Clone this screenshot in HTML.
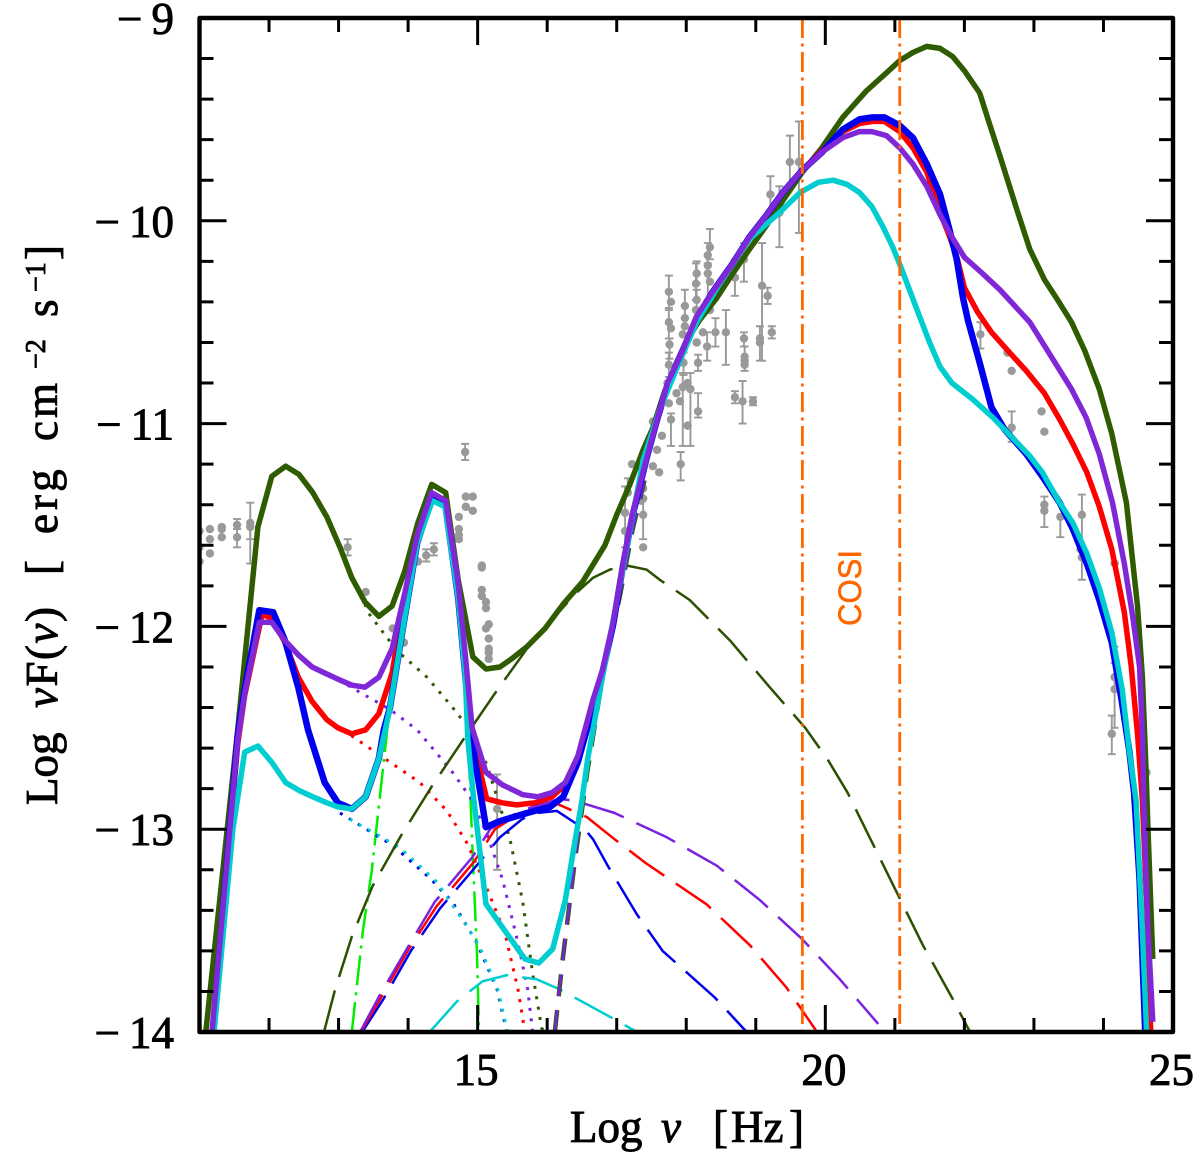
<!DOCTYPE html>
<html lang="en">
<head>
<meta charset="utf-8">
<title>Blazar SED</title>
<style>
html,body{margin:0;padding:0;background:#fff;}
svg{display:block;}
text{font-family:"Liberation Serif","DejaVu Serif",serif;fill:#000;}
.tick-label{font-size:45px;stroke:#000;stroke-width:.9px;}
.axis-title{font-size:45px;stroke:#000;stroke-width:.9px;}
</style>
</head>
<body>
<svg id="chart" xmlns="http://www.w3.org/2000/svg" width="1200" height="1158" viewBox="0 0 1200 1158">
<defs><clipPath id="plot-clip"><rect x="199" y="18" width="974" height="1014"/></clipPath></defs>
<g id="points" clip-path="url(#plot-clip)"></g>
<g id="thin" clip-path="url(#plot-clip)"></g>
<g id="thick" clip-path="url(#plot-clip)"></g>
<g id="axes"></g>
<text transform="translate(861,626) rotate(-90)" textLength="76" lengthAdjust="spacingAndGlyphs" style="font-family:'Liberation Sans',sans-serif;font-size:32px;fill:#ff6600;stroke:#ff6600;stroke-width:.5px;">COSI</text>
<text class="axis-title" y="1142"><tspan x="570">Log</tspan> <tspan x="661" font-style="italic">ν</tspan> <tspan x="713">[</tspan><tspan x="731">Hz</tspan><tspan x="789">]</tspan></text>
<text class="axis-title" transform="translate(57,0) rotate(-90)"><tspan x="-805" y="0">Log</tspan> <tspan x="-708" y="0" style="letter-spacing:1.5px"><tspan font-style="italic">ν</tspan>F(<tspan font-style="italic">ν</tspan>)</tspan> <tspan x="-575" y="0">[</tspan> <tspan x="-534" y="0" style="letter-spacing:4px">erg</tspan> <tspan x="-441" y="0" style="letter-spacing:3px">cm</tspan><tspan x="-369" y="-12" font-size="28">−2</tspan> <tspan x="-317" y="0">s</tspan><tspan x="-292" y="-12" font-size="28">−1</tspan> <tspan x="-260" y="0">]</tspan></text>
</svg>
<script>
// ---- axis ranges and ticks ----
const xDomain = [11, 25];
const yDomain = [-14, -9];
const xMinorTicks = [12, 13, 14, 16, 17, 18, 19, 21, 22, 23, 24];
const xMajorTicks = [15, 20];
const xTickLabels = [15, 20, 25];
const yMajorTicks = [-13, -12, -11, -10];
const yMinorTicks = [-13.8,-13.6,-13.4,-13.2,-12.8,-12.6,-12.4,-12.2,-11.8,-11.6,-11.4,-11.2,-10.8,-10.6,-10.4,-10.2,-9.8,-9.6,-9.4,-9.2];
const yTickLabels = [-14, -13, -12, -11, -10, -9];
const cosiBand = [19.67, 21.07];

// ---- total models ----
const greenNu = [11.09,11.55,11.84,12.04,12.24,12.43,12.63,12.83,13.02,13.19,13.38,13.58,13.77,13.95,14.14,14.34,14.54,14.72,14.93,15.12,15.32,15.49,15.71,15.97,16.23,16.51,16.83,17.00,17.19,17.38,17.52,17.69,17.86,18.01,18.19,18.44,18.67,18.91,19.16,19.39,19.67,19.95,20.25,20.59,20.88,21.07,21.26,21.46,21.65,21.83,22.00,22.22,22.36,22.51,22.76,22.94,23.15,23.34,23.54,23.73,23.94,24.12,24.33,24.49,24.56,24.61,24.64,24.71];
const greenFlux = [-14,-12.51,-11.51,-11.26,-11.21,-11.25,-11.34,-11.46,-11.61,-11.76,-11.88,-11.95,-11.90,-11.73,-11.49,-11.30,-11.34,-11.77,-12.15,-12.21,-12.20,-12.16,-12.10,-12.01,-11.89,-11.78,-11.60,-11.45,-11.30,-11.13,-11.02,-10.84,-10.70,-10.59,-10.49,-10.38,-10.26,-10.14,-10.02,-9.90,-9.76,-9.64,-9.49,-9.36,-9.27,-9.21,-9.17,-9.14,-9.15,-9.19,-9.26,-9.37,-9.52,-9.68,-9.95,-10.14,-10.29,-10.39,-10.50,-10.64,-10.83,-11.05,-11.39,-11.90,-12.25,-12.69,-13.00,-13.64];

const redNu = [11.19,11.55,11.65,11.90,12.04,12.23,12.42,12.62,12.83,12.99,13.19,13.39,13.58,13.77,13.93,14.14,14.34,14.54,14.72,14.85,14.92,15.13,15.35,15.56,15.82,16.07,16.26,16.44,16.66,16.80,16.95,17.09,17.23,17.43,17.59,17.73,17.91,18.15,18.38,18.67,18.91,19.16,19.39,19.67,19.96,20.25,20.49,20.68,20.85,21.07,21.26,21.46,21.65,21.79,21.90,22.00,22.19,22.39,22.65,22.89,23.15,23.37,23.56,23.76,23.94,24.12,24.30,24.40,24.49,24.56,24.62,24.68];
const redFlux = [-14,-12.58,-12.34,-11.94,-11.96,-12.08,-12.25,-12.37,-12.46,-12.50,-12.53,-12.51,-12.43,-12.23,-11.90,-11.54,-11.36,-11.40,-11.82,-12.26,-12.55,-12.85,-12.87,-12.88,-12.87,-12.84,-12.78,-12.66,-12.40,-12.22,-11.99,-11.70,-11.45,-11.17,-10.97,-10.81,-10.67,-10.48,-10.35,-10.21,-10.08,-9.97,-9.86,-9.75,-9.65,-9.56,-9.52,-9.51,-9.51,-9.56,-9.64,-9.76,-9.96,-10.08,-10.19,-10.33,-10.45,-10.55,-10.65,-10.74,-10.85,-10.98,-11.10,-11.24,-11.41,-11.62,-11.93,-12.20,-12.53,-12.86,-13.35,-14];

const blueNu = [11.19,11.55,11.65,11.86,12.06,12.23,12.42,12.56,12.80,12.99,13.19,13.39,13.58,13.65,13.74,13.93,14.13,14.35,14.53,14.72,14.82,14.89,15.12,15.32,15.71,16.04,16.23,16.44,16.57,16.80,16.95,17.09,17.23,17.43,17.59,17.73,17.91,18.15,18.38,18.67,18.91,19.16,19.39,19.67,19.96,20.25,20.49,20.68,20.85,21.07,21.26,21.46,21.65,21.79,21.89,21.98,22.05,22.22,22.39,22.58,22.89,23.12,23.37,23.56,23.76,23.94,24.12,24.26,24.37,24.44,24.52,24.60];
const blueFlux = [-14,-12.54,-12.31,-11.92,-11.93,-12.07,-12.30,-12.51,-12.77,-12.87,-12.90,-12.84,-12.65,-12.51,-12.40,-12.00,-11.59,-11.36,-11.39,-11.86,-12.23,-12.51,-12.99,-12.96,-12.92,-12.89,-12.84,-12.67,-12.51,-12.22,-11.99,-11.70,-11.45,-11.17,-10.97,-10.81,-10.67,-10.48,-10.35,-10.21,-10.08,-9.97,-9.86,-9.75,-9.66,-9.55,-9.50,-9.49,-9.49,-9.53,-9.59,-9.72,-9.87,-10.05,-10.19,-10.38,-10.49,-10.70,-10.92,-11.03,-11.15,-11.26,-11.39,-11.52,-11.69,-11.87,-12.08,-12.36,-12.61,-12.82,-13.25,-14];

const cyanNu = [11.21,11.48,11.65,11.84,12.04,12.24,12.44,12.63,12.83,12.99,13.19,13.39,13.58,13.67,13.74,13.93,14.13,14.35,14.53,14.72,14.82,14.86,14.93,15.12,15.39,15.68,15.88,16.08,16.26,16.37,16.50,16.58,16.79,17.09,17.38,17.62,17.91,18.15,18.48,18.91,19.34,19.64,19.90,20.11,20.31,20.49,20.67,20.83,20.97,21.10,21.32,21.50,21.65,21.82,22.12,22.41,22.69,22.94,23.12,23.37,23.56,23.76,23.94,24.12,24.27,24.37,24.47,24.56,24.62];
const cyanFlux = [-14,-13.00,-12.62,-12.59,-12.67,-12.77,-12.81,-12.84,-12.87,-12.89,-12.90,-12.84,-12.65,-12.51,-12.40,-12.00,-11.59,-11.38,-11.41,-11.86,-12.23,-12.56,-12.81,-13.37,-13.50,-13.64,-13.66,-13.59,-13.35,-13.12,-12.86,-12.66,-12.26,-11.71,-11.18,-10.93,-10.69,-10.50,-10.31,-10.09,-9.96,-9.86,-9.81,-9.80,-9.82,-9.86,-9.93,-10.03,-10.13,-10.24,-10.44,-10.60,-10.72,-10.80,-10.88,-10.97,-11.07,-11.16,-11.24,-11.39,-11.49,-11.64,-11.81,-12.03,-12.31,-12.61,-12.86,-13.50,-14];

const purpleNu = [11.18,11.55,11.65,11.86,12.04,12.23,12.42,12.62,12.80,12.99,13.19,13.38,13.58,13.77,13.95,14.14,14.34,14.54,14.72,14.82,14.92,15.12,15.35,15.65,15.87,16.07,16.26,16.44,16.66,16.80,16.95,17.09,17.23,17.43,17.59,17.73,17.91,18.15,18.38,18.67,18.91,19.16,19.39,19.67,19.96,20.25,20.49,20.67,20.88,21.07,21.26,21.46,21.65,21.82,22.00,22.26,22.51,22.94,23.25,23.54,23.75,23.94,24.13,24.30,24.42,24.52,24.56,24.58,24.60,24.64,24.71];
const purpleFlux = [-14,-12.56,-12.33,-11.98,-11.98,-12.07,-12.14,-12.20,-12.23,-12.26,-12.29,-12.30,-12.25,-12.11,-11.84,-11.54,-11.34,-11.38,-11.79,-12.13,-12.50,-12.72,-12.78,-12.83,-12.84,-12.82,-12.77,-12.64,-12.36,-12.21,-11.98,-11.69,-11.44,-11.17,-10.97,-10.80,-10.67,-10.47,-10.35,-10.21,-10.08,-9.97,-9.86,-9.75,-9.66,-9.59,-9.56,-9.56,-9.58,-9.64,-9.72,-9.83,-9.97,-10.08,-10.18,-10.26,-10.34,-10.50,-10.67,-10.83,-10.97,-11.15,-11.39,-11.69,-11.95,-12.20,-12.53,-12.86,-13.09,-13.50,-13.95];

// ---- long-dash components ----
const greenDashNu = [12.79,12.95,13.19,13.49,13.90,14.34,14.79,15.25,15.75,16.40,16.66,16.90,17.15,17.43,17.62,18.05,18.63,19.20,19.71,20.04,20.32,20.68,21.04,21.40,21.82,22.08];
const greenDashFlux = [-14,-13.79,-13.53,-13.28,-13.03,-12.79,-12.56,-12.33,-12.09,-11.84,-11.76,-11.72,-11.70,-11.72,-11.77,-11.87,-12.07,-12.30,-12.50,-12.66,-12.82,-13.07,-13.32,-13.57,-13.83,-14];
const purpleDashNu = [13.31,13.59,14.00,14.38,14.92,15.18,15.61,16.18,16.40,16.97,17.72,18.44,19.06,19.66,20.21,20.76];
const purpleDashFlux = [-14,-13.82,-13.58,-13.36,-13.14,-13.00,-12.91,-12.85,-12.86,-12.92,-13.04,-13.18,-13.35,-13.54,-13.74,-13.96];
const redDashNu = [13.32,13.61,14.01,14.41,14.95,15.25,15.61,16.11,16.57,16.97,17.43,18.29,18.91,19.44,19.88];
const redDashFlux = [-14,-13.83,-13.59,-13.38,-13.16,-13.00,-12.92,-12.87,-12.94,-13.05,-13.17,-13.37,-13.57,-13.78,-14];
const blueDashNu = [13.34,13.64,14.04,14.46,14.96,15.32,15.64,15.85,16.14,16.54,16.66,16.87,17.29,17.66,18.41,18.87];
const blueDashFlux = [-14,-13.84,-13.60,-13.39,-13.19,-13.04,-12.95,-12.92,-12.91,-13.00,-13.05,-13.18,-13.42,-13.60,-13.83,-14];
const cyanDashNu = [14.31,14.70,15.07,15.42,15.85,16.18,16.93,17.29];
const cyanDashFlux = [-14,-13.85,-13.75,-13.72,-13.74,-13.79,-13.93,-14];
const sscNu = [16.11,16.22,16.40,16.58,16.83,17.04,17.23,17.40];
const sscFlux = [-14,-13.65,-13.15,-12.71,-12.18,-11.86,-11.52,-11.28];

// ---- dotted components ----
const greenDotNu = [13.38,13.42,13.84,14.27,14.64,14.89,15.13,15.46,15.65,15.79,15.92,15.96];
const greenDotFlux = [-11.89,-11.93,-12.12,-12.25,-12.40,-12.51,-12.68,-13.04,-13.36,-13.71,-13.98,-14];
const purpleDotNu = [13.13,13.74,14.13,14.64,14.89,15.13,15.36,15.58,15.72,15.79];
const purpleDotFlux = [-12.29,-12.41,-12.51,-12.72,-12.84,-13.02,-13.25,-13.56,-13.79,-14];
const redDotNu = [13.06,13.70,14.17,14.56,14.85,15.13,15.39,15.58,15.68];
const redDotFlux = [-12.51,-12.66,-12.77,-12.91,-13.07,-13.29,-13.51,-13.79,-14];
const blueDotNu = [13.02,13.78,14.31,14.64,14.99,15.28,15.42];
const blueDotFlux = [-12.92,-13.08,-13.24,-13.36,-13.56,-13.79,-14];
const cyanDotNu = [13.16,13.88,14.41,14.79,15.03,15.29,15.43];
const cyanDotFlux = [-12.95,-13.09,-13.26,-13.45,-13.58,-13.79,-14];

// ---- dot-dash torus component ----
const torusNu = [13.19,13.35,13.48,13.70,13.84,14.03,14.17,14.34,14.54,14.72,14.86,14.93,14.99,15.02];
const torusFlux = [-14,-13.50,-13.20,-12.51,-12.17,-11.72,-11.50,-11.38,-11.41,-11.87,-12.51,-13.14,-13.60,-14];

// ---- observed data: frequency, flux, error-bar top, error-bar bottom ----
const obsNu = [11.0,11.0,11.0,11.15,11.15,11.15,11.32,11.32,11.32,11.54,11.54,11.73,11.73,13.13,13.39,13.78,13.94,14.14,14.26,14.37,14.82,14.83,14.93,14.83,14.93,14.73,14.73,14.73,14.73,15.06,15.06,15.06,15.06,15.12,15.12,15.16,15.12,15.16,15.16,15.16,15.16,15.28,
17.22,17.16,17.35,17.12,17.12,17.38,17.38,17.38,17.38,17.52,17.61,
17.75,17.78,17.75,17.78,17.76,17.75,17.73,17.98,17.98,17.98,17.95,17.96,18.15,18.14,18.15,18.14,18.15,18.17,18.15,18.34,18.31,18.31,18.31,18.34,18.34,18.24,18.30,18.42,18.57,18.70,18.83,18.83,18.84,18.84,18.84,19.09,19.17,19.23,19.06,19.06,18.70,18.81,18.96,18.17,18.02,18.06,18.02,17.95,17.86,17.91,17.75,17.78,17.52,17.65,17.58,17.38,17.92,19.21,19.49,19.62,19.34,
22.23,22.62,22.68,22.68,23.11,23.15,23.15,23.15,23.38,23.69,23.67,23.69,24.16,24.16,24.16,24.12,24.62];
const obsFlux = [-11.53,-11.61,-11.68,-11.52,-11.57,-11.64,-11.51,-11.56,-11.52,-11.50,-11.56,-11.49,-11.51,-11.61,-11.83,-12.01,-12.08,-11.68,-11.65,-11.62,-11.14,-11.36,-11.36,-11.41,-11.43,-11.46,-11.52,-11.55,-11.57,-11.70,-11.71,-11.82,-11.85,-11.88,-11.91,-11.99,-12.01,-12.06,-12.11,-12.13,-12.16,-12.90,
-11.20,-11.34,-11.38,-11.44,-11.53,-11.45,-11.61,-11.37,-11.32,-11.21,-11.24,
-10.35,-10.40,-10.50,-10.53,-10.61,-10.71,-10.80,-10.42,-10.48,-10.52,-10.56,-10.70,-10.26,-10.31,-10.39,-10.44,-10.60,-10.70,-10.60,-10.13,-10.17,-10.22,-10.26,-10.30,-10.44,-10.55,-10.62,-10.55,-10.55,-10.28,-10.19,-10.58,-10.67,-10.69,-10.71,-10.32,-10.37,-10.55,-10.58,-10.60,-10.87,-10.89,-10.89,-10.94,-11.01,-10.83,-10.80,-10.82,-10.85,-10.89,-10.90,-10.98,-10.99,-11.06,-11.13,-11.19,-11.20,-9.87,-9.71,-9.71,-9.96,
-10.56,-10.65,-10.74,-11.02,-10.94,-11.04,-11.40,-11.43,-11.46,-11.45,-11.62,-11.66,-11.69,-12.25,-12.31,-12.53,-12.72];
const obsTop = [null,null,null,null,null,null,null,null,null,-11.47,-11.52,-11.39,null,-11.57,null,null,null,null,-11.62,-11.59,-11.10,null,null,null,null,null,null,null,null,null,null,null,null,null,null,null,null,null,null,null,null,-12.73,
null,-11.27,null,-11.31,null,-11.37,null,null,null,null,null,
-10.27,null,-10.44,null,-10.58,-10.65,null,-10.34,null,null,null,-10.65,-10.20,-10.21,-10.34,null,null,-10.66,null,-10.04,-10.11,-10.21,null,null,null,null,-10.55,-10.48,-10.44,-10.19,-10.11,-10.55,-10.62,null,null,-10.11,-10.33,-10.52,-10.52,null,-10.84,-10.79,-10.87,-10.85,null,-10.75,null,-10.75,null,null,null,-10.95,null,null,null,null,-11.14,-9.78,-9.58,-9.51,-9.83,
-10.50,null,null,-10.94,null,null,-11.36,null,null,-11.35,null,null,null,-12.10,-12.18,-12.44,null];
const obsBottom = [null,null,null,null,null,null,null,null,null,-11.52,-11.61,-11.57,-11.69,-11.65,null,null,null,null,-11.68,-11.65,-11.18,null,null,null,null,null,null,null,null,null,null,null,null,null,null,null,null,null,null,null,null,-13.20,
null,null,null,-11.61,null,-11.57,null,null,null,null,null,
-10.43,null,-10.58,null,-10.68,-10.77,null,-10.48,null,null,null,-10.76,-10.31,-10.39,-10.45,null,null,-10.74,null,-10.19,-10.26,-10.39,null,null,null,null,-10.69,-10.62,-10.71,-10.37,-10.30,-10.62,null,null,-10.74,-10.69,-10.41,-10.58,-10.69,null,-10.90,-11.00,-10.91,-10.97,null,-11.11,null,-11.11,null,null,null,-11.11,null,null,null,null,-11.28,-9.96,-9.83,-10.06,-10.13,
-10.63,null,null,-11.09,null,null,-11.51,null,-11.56,-11.77,null,null,null,null,-12.50,-12.63,null];

const W = 'http://www.w3.org/2000/svg';
const plotLeft = 199.5, plotRight = 1173, plotTop = 18, plotBottom = 1032;
function xScale(v){ return plotLeft + (v - xDomain[0]) / (xDomain[1] - xDomain[0]) * (plotRight - plotLeft); }
function yScale(v){ return plotBottom - (v - yDomain[0]) / (yDomain[1] - yDomain[0]) * (plotBottom - plotTop); }
function mk(tag, parent){ const e = document.createElementNS(W, tag); parent.appendChild(e); return e; }
function linePath(nu, flux){ return nu.map((v, i) => (i ? 'L' : 'M') + xScale(v).toFixed(1) + ' ' + yScale(flux[i]).toFixed(1)).join(''); }
function stroke(el, color, width, dash){
  el.setAttribute('fill', 'none');
  el.setAttribute('stroke', color);
  el.setAttribute('stroke-width', width);
  el.setAttribute('stroke-linejoin', 'round');
  if (dash) el.setAttribute('stroke-dasharray', dash);
}

const gPoints = document.getElementById('points');
const gThin = document.getElementById('thin');
const gThick = document.getElementById('thick');
const gAxes = document.getElementById('axes');

// observed points
obsNu.forEach((v, i) => {
  const cx = xScale(v), cy = yScale(obsFlux[i]);
  const top = obsTop[i], bot = obsBottom[i];
  if (top !== null || bot !== null) {
    const y1 = yScale(top !== null ? top : obsFlux[i]);
    const y2 = yScale(bot !== null ? bot : obsFlux[i]);
    const bar = mk('path', gPoints);
    
    
    let d = 'M' + cx + ' ' + y1 + 'V' + y2;
    if (top !== null) d += 'M' + (cx - 4) + ' ' + y1 + 'h8';
    if (bot !== null) d += 'M' + (cx - 4) + ' ' + y2 + 'h8';
    bar.setAttribute('d', d);
    stroke(bar, '#999999', 1.9);
  }
  const dot = mk('circle', gPoints);
  
  
  dot.setAttribute('cx', cx);
  dot.setAttribute('cy', cy);
  dot.setAttribute('r', 4.2);
  dot.setAttribute('fill', '#999999');
});

// torus dash-dot
const torusLine = mk('path', gThin);


torusLine.setAttribute('d', linePath(torusNu, torusFlux));
stroke(torusLine, '#00ee00', 2.5, '30 7 3 7');

// dotted components
const greenDot = mk('path', gThin);


greenDot.setAttribute('d', linePath(greenDotNu, greenDotFlux));
stroke(greenDot, '#2f5a00', 3, '3 7.5');
const purpleDot = mk('path', gThin);


purpleDot.setAttribute('d', linePath(purpleDotNu, purpleDotFlux));
stroke(purpleDot, '#7a22e0', 3, '3 7.5');
const redDot = mk('path', gThin);


redDot.setAttribute('d', linePath(redDotNu, redDotFlux));
stroke(redDot, '#ff0000', 3, '3 7.5');
const blueDot = mk('path', gThin);


blueDot.setAttribute('d', linePath(blueDotNu, blueDotFlux));
stroke(blueDot, '#0000ee', 3, '3 7.5');
const cyanDot = mk('path', gThin);


cyanDot.setAttribute('d', linePath(cyanDotNu, cyanDotFlux));
stroke(cyanDot, '#00cdd0', 3, '3 7.5');

// long-dash components
const greenDash = mk('path', gThin);


greenDash.setAttribute('d', linePath(greenDashNu, greenDashFlux));
stroke(greenDash, '#2a5000', 2.5, '43 14');
const cyanDash = mk('path', gThin);


cyanDash.setAttribute('d', linePath(cyanDashNu, cyanDashFlux));
stroke(cyanDash, '#00cdd0', 2.5, '43 14');
const blueDash = mk('path', gThin);


blueDash.setAttribute('d', linePath(blueDashNu, blueDashFlux));
stroke(blueDash, '#0000ee', 2.5, '43 14');
const redDash = mk('path', gThin);


redDash.setAttribute('d', linePath(redDashNu, redDashFlux));
stroke(redDash, '#ff0000', 2.5, '43 14');
const purpleDash = mk('path', gThin);


purpleDash.setAttribute('d', linePath(purpleDashNu, purpleDashFlux));
stroke(purpleDash, '#7a22e0', 2.5, '43 14');

// thick ssc dash
const sscGreen = mk('path', gThin);


sscGreen.setAttribute('d', linePath(sscNu, sscFlux));
stroke(sscGreen, '#2f5a00', 4.5, '22 14');
const sscPurple = mk('path', gThin);


sscPurple.setAttribute('d', linePath(sscNu, sscFlux));
stroke(sscPurple, '#7a22e0', 2.5, '22 14');

// thick totals
const greenTotal = mk('path', gThick);


greenTotal.setAttribute('d', linePath(greenNu, greenFlux));
stroke(greenTotal, '#2f5c00', 5.5);
const redTotal = mk('path', gThick);


redTotal.setAttribute('d', linePath(redNu, redFlux));
stroke(redTotal, '#ff0000', 5.5);
const blueTotal = mk('path', gThick);


blueTotal.setAttribute('d', linePath(blueNu, blueFlux));
stroke(blueTotal, '#0000ee', 6.5);
const cyanTotal = mk('path', gThick);


cyanTotal.setAttribute('d', linePath(cyanNu, cyanFlux));
stroke(cyanTotal, '#00cdd0', 5.5);
const purpleTotal = mk('path', gThick);


purpleTotal.setAttribute('d', linePath(purpleNu, purpleFlux));
stroke(purpleTotal, '#8028d8', 5.5);

// COSI band edges
cosiBand.forEach(v => {
  const l = mk('line', gThick);
  
  
  l.setAttribute('x1', xScale(v));
  l.setAttribute('x2', xScale(v));
  l.setAttribute('y1', plotTop);
  l.setAttribute('y2', plotBottom);
  stroke(l, '#ff6600', 2.8, '20 5.5 3 5.5');
});

// frame and ticks
const frame = mk('rect', gAxes);


frame.setAttribute('x', plotLeft);
frame.setAttribute('y', plotTop);
frame.setAttribute('width', plotRight - plotLeft);
frame.setAttribute('height', plotBottom - plotTop);
stroke(frame, '#000', 4.4);

function xTick(v, len){
  const p = mk('path', gAxes);
  
  
  const x = xScale(v);
  p.setAttribute('d', 'M' + x + ' ' + plotBottom + 'v' + (-len) + 'M' + x + ' ' + plotTop + 'v' + len);
  stroke(p, '#000', 3);
}
function yTick(v, len){
  const p = mk('path', gAxes);
  
  
  const y = yScale(v);
  p.setAttribute('d', 'M' + plotLeft + ' ' + y + 'h' + len + 'M' + plotRight + ' ' + y + 'h' + (-len));
  stroke(p, '#000', 3);
}
xMinorTicks.forEach(v => xTick(v, 14));
xMajorTicks.forEach(v => xTick(v, 27));
yMinorTicks.forEach(v => yTick(v, 14));
yMajorTicks.forEach(v => yTick(v, 27));

xTickLabels.forEach(v => {
  const t = mk('text', gAxes);
  
  
  t.setAttribute('class', 'tick-label');
  t.setAttribute('x', xScale(v) - 1.5);
  t.setAttribute('y', 1085);
  t.setAttribute('text-anchor', 'middle');
  t.textContent = String(v);
});
yTickLabels.forEach(v => {
  const t = mk('text', gAxes);
  
  
  t.setAttribute('class', 'tick-label');
  t.setAttribute('x', 174);
  t.setAttribute('y', yScale(v) + 16);
  t.setAttribute('text-anchor', 'end');
  t.textContent = '\u2212';
  const digits = mk('tspan', t);
  
  
  digits.setAttribute('dx', 9);
  digits.textContent = String(Math.abs(v));
});
</script>
</body>
</html>
